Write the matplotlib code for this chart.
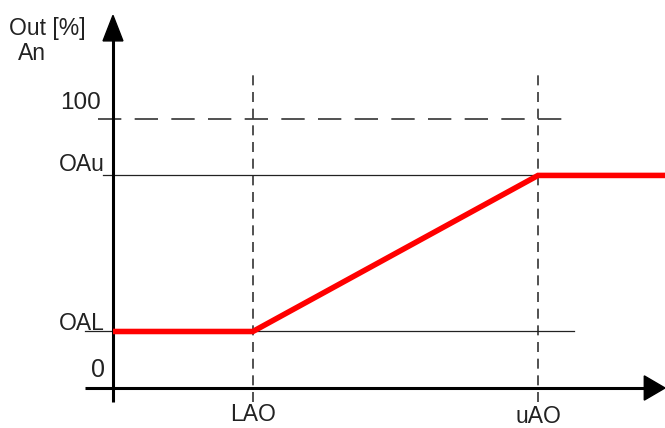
import matplotlib
matplotlib.use("Agg")
import matplotlib.pyplot as plt
from matplotlib.patches import Polygon

plt.rcParams['font.family'] = ['Liberation Sans', 'DejaVu Sans']

# breakpoints of the characteristic
x_labels = ["LAO", "uAO"]
x_break = [52, 158]
y_labels = ["OAL", "OAu"]
y_levels = [21, 79]
y_max = 100
x_end = 205

fig = plt.figure(figsize=(6.65, 4.28), dpi=100)
ax = fig.add_axes([0, 0, 1, 1])
ax.set_xlim(-42.0, 205.2)
ax.set_ylim(-14.87, 144.2)
ax.axis('off')

dark = '#333333'
# dashed 100 line
ax.plot([-5.6, 169], [y_max, y_max], color=dark, lw=1.2, dashes=(14, 8))
# vertical dashed lines
for xb in x_break:
    ax.plot([xb, xb], [-5.2, 118.5], color=dark, lw=1.2, dashes=(6, 4))
# thin level lines
ax.plot([-3.7, x_break[1]], [y_levels[1], y_levels[1]], color='#222222', lw=0.9)
ax.plot([-10.4, 171.5], [y_levels[0], y_levels[0]], color='#222222', lw=0.9)

# axes
ax.plot([0, 0], [-5.2, 132], color='black', lw=2.2, solid_capstyle='butt')
ax.add_patch(Polygon([[-3.7, 129], [3.7, 129], [0, 138.5]], closed=True, color='black'))
ax.plot([-10.4, 198], [0, 0], color='black', lw=2.2, solid_capstyle='butt')
ax.add_patch(Polygon([[197.5, -4.5], [197.5, 4.5], [205.2, 0]], closed=True, color='black'))

# red characteristic
rx = [0, x_break[0], x_break[1], x_end + 1]
ry = [y_levels[0], y_levels[0], y_levels[1], y_levels[1]]
ax.plot(rx, ry, color='#ff0000', lw=4.0, solid_capstyle='butt', solid_joinstyle='miter')

tc = '#222222'
fs = 16.5
ax.text(-38.5, 133.5, "Out [%]", fontsize=fs, color=tc, ha='left', va='center')
ax.text(-35.5, 124.3, "An", fontsize=fs, color=tc, ha='left', va='center')
ax.text(-4.5, 106, "100", fontsize=17.5, color=tc, ha='right', va='center')
ax.text(-3, y_levels[1] + 4, y_labels[1], fontsize=fs, color=tc, ha='right', va='center')
ax.text(-3, y_levels[0] + 3, y_labels[0], fontsize=fs, color=tc, ha='right', va='center')
ax.text(-3, 6.8, "0", fontsize=18, color=tc, ha='right', va='center')
ax.text(x_break[0], -9.7, x_labels[0], fontsize=fs, color=tc, ha='center', va='center')
ax.text(x_break[1], -10.6, x_labels[1], fontsize=fs, color=tc, ha='center', va='center')

fig.savefig("out.png", dpi=100)
